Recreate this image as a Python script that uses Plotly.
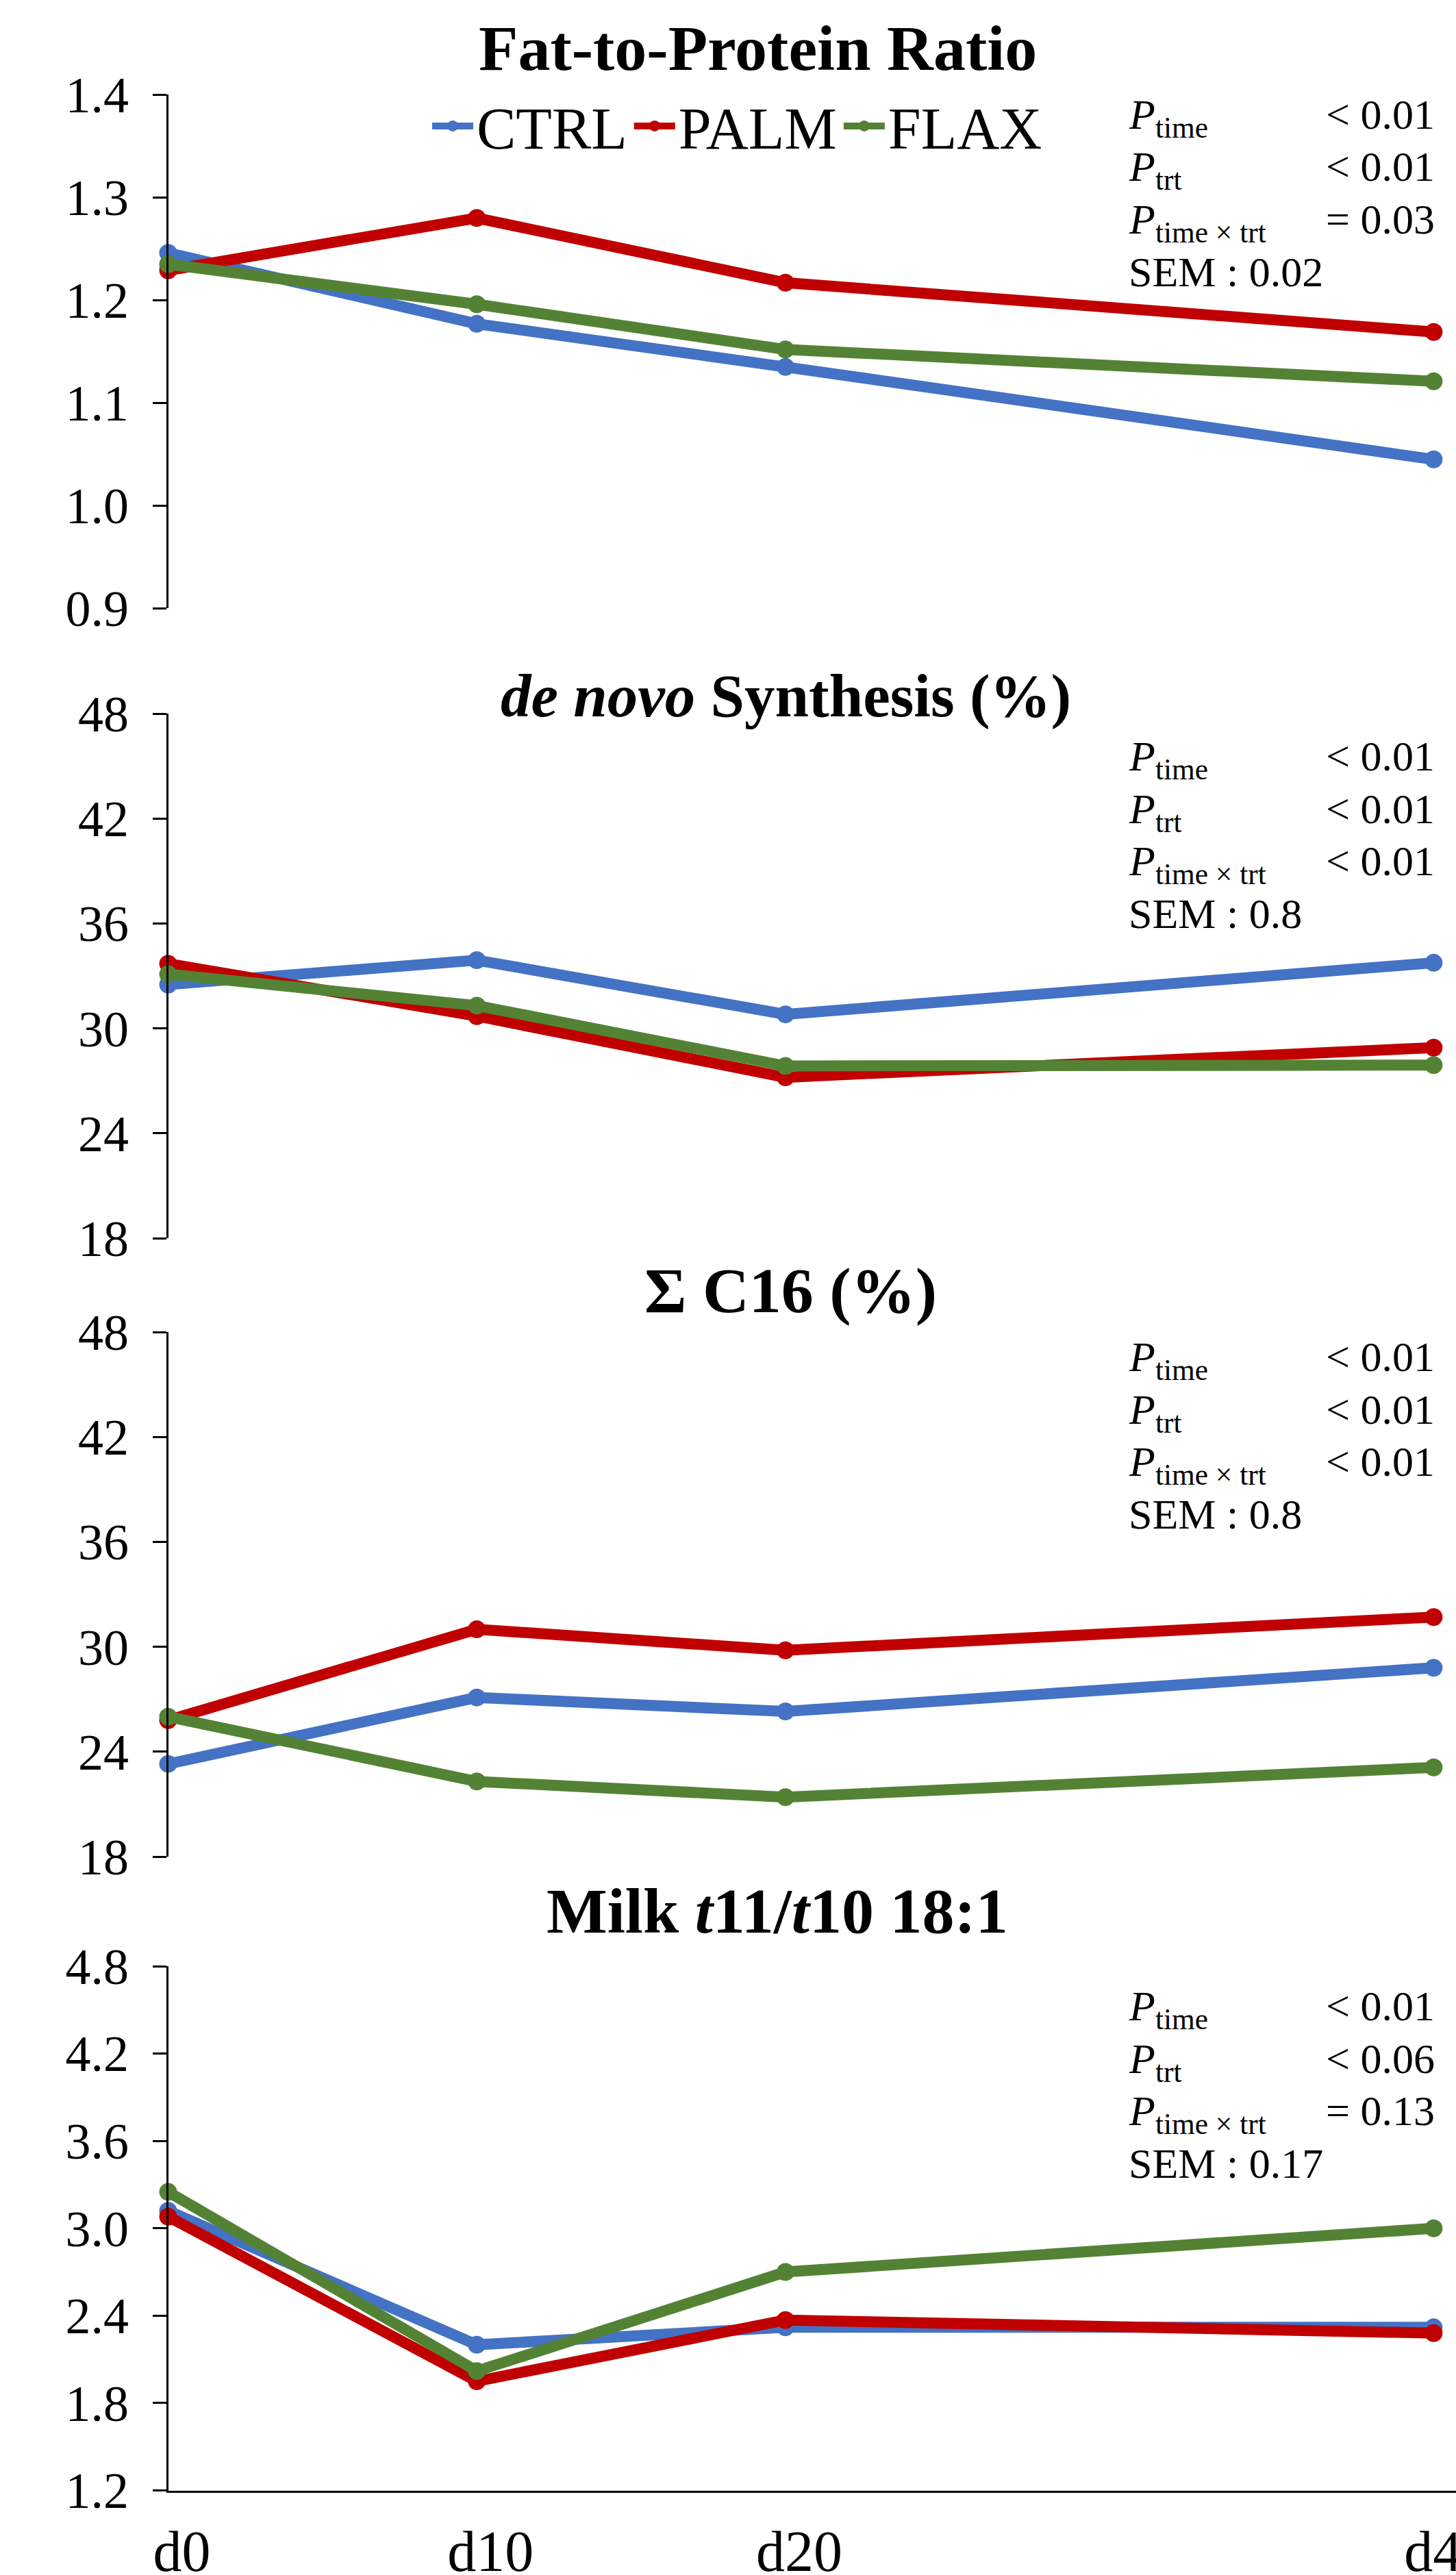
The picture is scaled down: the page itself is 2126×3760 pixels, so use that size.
import plotly.graph_objects as go

W, H = 2126, 3760
FONT = "Liberation Serif, Times New Roman, serif"

# ---------------- data ----------------
days = [0, 10, 20, 41]
day_labels = ["d0", "d10", "d20", "d41"]
groups = ["CTRL", "PALM", "FLAX"]
colors = {"CTRL": "#4472C4", "PALM": "#C00000", "FLAX": "#548235"}

fpr_ctrl = [1.246, 1.177, 1.135, 1.045]
fpr_palm = [1.229, 1.280, 1.217, 1.169]
fpr_flax = [1.235, 1.196, 1.152, 1.121]

denovo_ctrl = [32.5, 33.9, 30.8, 33.75]
denovo_palm = [33.7, 30.7, 27.2, 28.9]
denovo_flax = [33.1, 31.3, 27.85, 27.9]

c16_ctrl = [23.3, 27.1, 26.3, 28.8]
c16_palm = [25.8, 31.0, 29.8, 31.7]
c16_flax = [26.0, 22.3, 21.4, 23.1]

t11_ctrl = [3.12, 2.20, 2.32, 2.32]
t11_palm = [3.08, 1.95, 2.37, 2.28]
t11_flax = [3.25, 2.02, 2.70, 3.00]

titles = [
    "<b>Fat-to-Protein Ratio</b>",
    "<b><i>de novo</i> Synthesis (%)</b>",
    "<b>Σ C16 (%)</b>",
    "<b>Milk <i>t</i>11/<i>t</i>10 18:1</b>",
]
stat_labels = ["<i>P</i><sub>time</sub>", "<i>P</i><sub>trt</sub>",
               "<i>P</i><sub>time × trt</sub>", "SEM : "]
stats_fpr = ["&lt; 0.01", "&lt; 0.01", "= 0.03", "0.02"]
stats_denovo = ["&lt; 0.01", "&lt; 0.01", "&lt; 0.01", "0.8"]
stats_c16 = ["&lt; 0.01", "&lt; 0.01", "&lt; 0.01", "0.8"]
stats_t11 = ["&lt; 0.01", "&lt; 0.06", "= 0.13", "0.17"]

y_ranges = [[0.9, 1.4], [18, 48], [18, 48], [1.2, 4.8]]
y_dticks = [0.1, 6, 6, 0.6]
y_formats = [".1f", "d", "d", ".1f"]

panels = [
    {"CTRL": fpr_ctrl, "PALM": fpr_palm, "FLAX": fpr_flax},
    {"CTRL": denovo_ctrl, "PALM": denovo_palm, "FLAX": denovo_flax},
    {"CTRL": c16_ctrl, "PALM": c16_palm, "FLAX": c16_flax},
    {"CTRL": t11_ctrl, "PALM": t11_palm, "FLAX": t11_flax},
]
panel_stats = [stats_fpr, stats_denovo, stats_c16, stats_t11]

# ---------------- layout geometry (pixels) ----------------
y_px = [(138.3, 888.3), (1042, 1808), (1945, 2711), (2871, 3636.5)]
title_px = [(1106, 70), (1147, 1016), (1154, 1884), (1135, 2790)]
title_size = [94, 89, 94, 94]
stat_top_px = [131, 1068, 1945, 2893]
stat_step = 76.5
x_left = 245.5
px_per_day = 45.07
x_max = (W - x_left) / px_per_day


def fy(p):
    return 1 - p / H


def fx(p):
    return p / W


fig = go.Figure()
for i, data in enumerate(panels):
    n = "" if i == 0 else str(i + 1)
    for g in groups:
        fig.add_trace(go.Scatter(
            x=days, y=data[g], name=g, mode="lines+markers",
            line=dict(color=colors[g], width=16),
            marker=dict(color=colors[g], size=26),
            xaxis="x" + n, yaxis="y" + n,
            showlegend=(i == 0), cliponaxis=False,
        ))

layout = dict(
    width=W, height=H,
    margin=dict(l=0, r=0, t=0, b=0, pad=0),
    paper_bgcolor="white", plot_bgcolor="white",
    font=dict(family=FONT, color="black"),
    showlegend=True,
    legend=dict(orientation="h", x=fx(626), y=fy(184), xanchor="left", yanchor="middle",
                font=dict(size=86, family=FONT), bgcolor="rgba(0,0,0,0)",
                itemwidth=60, tracegroupgap=0),
)

annotations = []
for i in range(4):
    n = "" if i == 0 else str(i + 1)
    top, bot = y_px[i]
    layout["xaxis" + n] = dict(
        domain=[fx(x_left), 1], range=[0, x_max], anchor="y" + n,
        showgrid=False, zeroline=False,
        showline=(i == 3), linecolor="black", linewidth=2.5,
        showticklabels=(i == 3), tickvals=days, ticktext=day_labels,
        ticks="", tickfont=dict(size=84, family=FONT), automargin=False,
        ticklabelstandoff=14, ticklabelshift=20, ticklabeloverflow="allow",
    )
    layout["yaxis" + n] = dict(
        domain=[fy(bot), fy(top)], range=y_ranges[i], anchor="x" + n,
        showgrid=False, zeroline=False, showline=True, linecolor="black", linewidth=2.5,
        ticks="outside", ticklen=20, tickwidth=2.5, tickcolor="black",
        dtick=y_dticks[i], tick0=y_ranges[i][0], tickformat=y_formats[i],
        tickfont=dict(size=74, family=FONT), automargin=False,
        ticklabelstandoff=20,
    )
    tx, ty = title_px[i]
    annotations.append(dict(text=titles[i], x=fx(tx), y=fy(ty), xref="paper", yref="paper",
                            xanchor="center", yanchor="middle", showarrow=False,
                            font=dict(size=title_size[i], family=FONT, color="black")))
    for k in range(4):
        yy = stat_top_px[i] + k * stat_step
        if k < 3:
            annotations.append(dict(text=stat_labels[k], x=fx(1646), y=fy(yy), xref="paper", yref="paper",
                                    xanchor="left", yanchor="top", showarrow=False,
                                    font=dict(size=62, family=FONT, color="black")))
            annotations.append(dict(text=panel_stats[i][k], x=fx(1934), y=fy(yy), xref="paper", yref="paper",
                                    xanchor="left", yanchor="top", showarrow=False,
                                    font=dict(size=62, family=FONT, color="black")))
        else:
            annotations.append(dict(text=stat_labels[k] + panel_stats[i][k], x=fx(1646), y=fy(yy),
                                    xref="paper", yref="paper",
                                    xanchor="left", yanchor="top", showarrow=False,
                                    font=dict(size=62, family=FONT, color="black")))

layout["annotations"] = annotations
fig.update_layout(**layout)

fig.write_html("out.html", config={"displayModeBar": False},
               post_script="document.body.style.margin='0px';document.body.style.overflow='hidden';")
